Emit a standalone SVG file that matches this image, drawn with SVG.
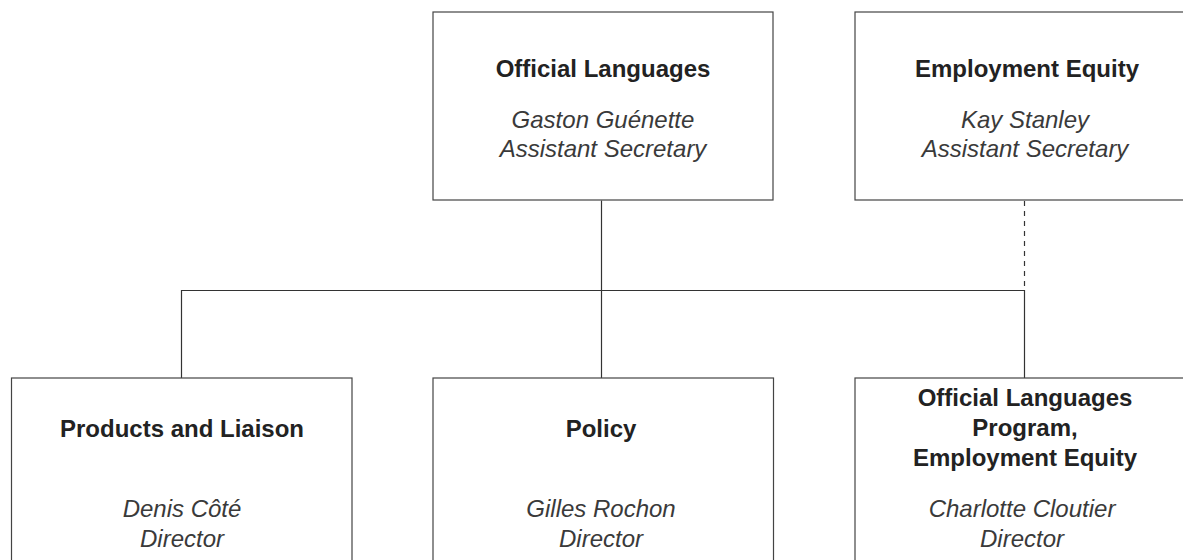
<svg xmlns="http://www.w3.org/2000/svg" width="1183" height="560" viewBox="0 0 1183 560">
<style>
.box{fill:#fff;stroke:#444;stroke-width:1.2}
.t{font-family:"Liberation Sans",Arial,sans-serif;font-size:24px;font-weight:bold;fill:#222;text-anchor:middle}
.n{font-family:"Liberation Sans",Arial,sans-serif;font-size:24px;font-style:italic;fill:#3a3a3a;text-anchor:middle}
.ln{stroke:#333;stroke-width:1.2;fill:none}
.dash{stroke:#333;stroke-width:1.2;fill:none;stroke-dasharray:5 5}
</style>
<rect width="1183" height="560" fill="#fff"/>
<g id="connectors">
<path class="ln" d="M601.5 200.5 V378"/>
<path class="ln" d="M181.5 378 V290.5 H1024.5 V378"/>
<path class="dash" d="M1024.5 201 V290"/>
</g>
<g id="official-languages">
<rect class="box" x="433" y="12" width="340" height="188"/>
<text class="t" x="603" y="77">Official Languages</text>
<text class="n" x="603" y="128">Gaston Guénette</text>
<text class="n" x="603" y="157">Assistant Secretary</text>
</g>
<g id="employment-equity">
<rect class="box" x="855" y="12" width="345" height="188"/>
<text class="t" x="1027" y="77">Employment Equity</text>
<text class="n" x="1025" y="128">Kay Stanley</text>
<text class="n" x="1025" y="157">Assistant Secretary</text>
</g>
<g id="products-liaison">
<rect class="box" x="11.5" y="378" width="340.5" height="200"/>
<text class="t" x="182" y="437">Products and Liaison</text>
<text class="n" x="182" y="517">Denis Côté</text>
<text class="n" x="182" y="547">Director</text>
</g>
<g id="policy">
<rect class="box" x="433" y="378" width="340.5" height="200"/>
<text class="t" x="601" y="437">Policy</text>
<text class="n" x="601" y="517">Gilles Rochon</text>
<text class="n" x="601" y="547">Director</text>
</g>
<g id="ol-program">
<rect class="box" x="855" y="378" width="345" height="200"/>
<text class="t" x="1025" y="406">Official Languages</text>
<text class="t" x="1025" y="436">Program,</text>
<text class="t" x="1025" y="466">Employment Equity</text>
<text class="n" x="1022" y="517">Charlotte Cloutier</text>
<text class="n" x="1022" y="547">Director</text>
</g>
</svg>
